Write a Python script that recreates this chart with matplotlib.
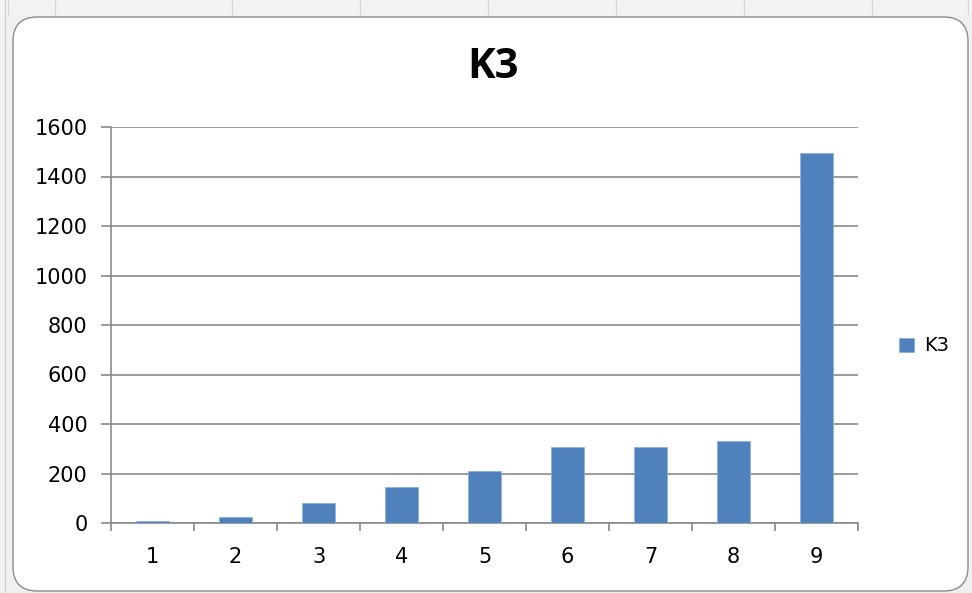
import matplotlib
matplotlib.use("Agg")
import matplotlib.pyplot as plt
from matplotlib.patches import FancyBboxPatch, Rectangle

categories = ["1", "2", "3", "4", "5", "6", "7", "8", "9"]
k3_values = [10, 26, 82, 146, 210, 306, 306, 330, 1495]
y_ticks = [0, 200, 400, 600, 800, 1000, 1200, 1400, 1600]

plt.rcParams["font.family"] = ["DejaVu Sans"]

W, H = 972, 593
fig = plt.figure(figsize=(W / 100, H / 100), dpi=100)
fig.patch.set_facecolor("#f3f3f3")

# spreadsheet column lines behind the chart
for x in [8, 55, 232, 360, 488, 616, 744, 872, 968]:
    fig.add_artist(plt.Line2D([x / W, x / W], [1 - 14 / H, 1], color="#d4d4d4", lw=0.8))
fig.add_artist(Rectangle((0, 0), 1, 1 - 14 / H, facecolor="#f0f0f0", edgecolor="none", zorder=0))
fig.add_artist(plt.Line2D([5 / W, 5 / W], [0, 1], color="#d0d0d0", lw=0.8))

# chart area with rounded corners
box = FancyBboxPatch((13 / W, 2 / H), (955 / W), (574 / H),
                     boxstyle="round,pad=0,rounding_size=0.025",
                     transform=fig.transFigure, facecolor="white",
                     edgecolor="#8c8c8c", lw=1.0, zorder=1, mutation_aspect=W / H)
fig.add_artist(box)

ax = fig.add_axes([111 / W, 1 - 523 / H, (858 - 111) / W, (523 - 127) / H])
ax.set_zorder(2)
ax.patch.set_alpha(0)

x = list(range(len(categories)))
ax.bar(x, k3_values, width=0.39, color="#4f81bd", edgecolor="#8fb0d8",
       linewidth=0.6, label="K3", zorder=3)

ax.set_xlim(-0.5, len(categories) - 0.5)
ax.set_ylim(0, 1600)
ax.set_yticks(y_ticks)
ax.set_yticklabels([str(v) for v in y_ticks], fontsize=15)
ax.set_xticks(x)
ax.set_xticklabels(categories, fontsize=15)
ax.set_xticks([i - 0.5 for i in range(len(categories) + 1)], minor=True)

ax.grid(axis="y", color="#8a8a8a", lw=1.2, zorder=1)
ax.tick_params(axis="x", which="major", length=0, pad=17)
ax.tick_params(axis="x", which="minor", length=6, color="#8a8a8a", width=1.2)
ax.tick_params(axis="y", length=7, color="#8a8a8a", width=1.2, pad=10)

for side in ["top", "right"]:
    ax.spines[side].set_visible(False)
for side in ["left", "bottom"]:
    ax.spines[side].set_color("#8a8a8a")
    ax.spines[side].set_linewidth(1.2)

fig.text(493 / W, 1 - 67 / H, "K3", fontsize=30, fontweight="bold",
         family=["Open Sans", "DejaVu Sans"], ha="center", va="center")

ax.legend(loc="center left", bbox_to_anchor=(1.032, 0.447), frameon=False,
          fontsize=14, handlelength=0.75, handleheight=0.75, handletextpad=0.5)

fig.savefig("out.png", dpi=100)
